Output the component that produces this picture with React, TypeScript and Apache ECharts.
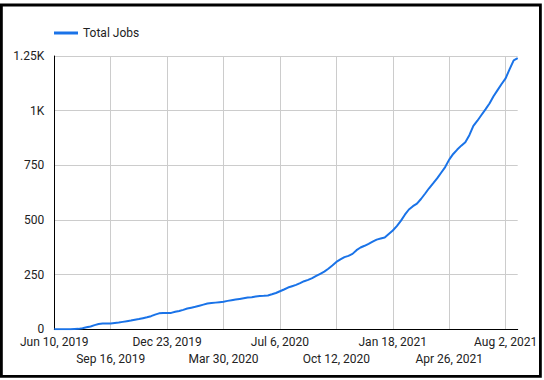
import React, { useEffect, useRef } from "react";
import * as echarts from "echarts";

// Weekly totals starting Jun 10, 2019
const totalJobs: number[] = [
  0, 0, 0, 0, 0, 1, 2, 5, 9, 13,
  19, 24, 26, 27, 27, 29, 31, 34, 37, 40,
  44, 47, 51, 55, 60, 67, 73, 74, 74, 75,
  80, 84, 89, 95, 99, 103, 108, 113, 118, 120,
  122, 124, 126, 130, 133, 136, 139, 142, 145, 147,
  150, 152, 153, 155, 160, 166, 174, 182, 191, 197,
  203, 211, 220, 226, 234, 244, 254, 264, 277, 292,
  308, 320, 330, 336, 345, 362, 374, 382, 391, 401,
  410, 415, 420, 436, 452, 472, 496, 524, 548, 563,
  575, 596, 620, 645, 667, 690, 716, 742, 776, 802,
  822, 840, 856, 888, 930, 954, 980, 1006, 1033, 1066,
  1094, 1122, 1148, 1190, 1230, 1240,
];

const tickLabels: string[] = [
  "Jun 10, 2019",
  "Sep 16, 2019",
  "Dec 23, 2019",
  "Mar 30, 2020",
  "Jul 6, 2020",
  "Oct 12, 2020",
  "Jan 18, 2021",
  "Apr 26, 2021",
  "Aug 2, 2021",
];

const yTickLabels: string[] = ["0", "250", "500", "750", "1K", "1.25K"];

const START = Date.UTC(2019, 5, 10);
const WEEK = 7 * 24 * 3600 * 1000;
const categories: string[] = totalJobs.map((_, i) =>
  new Date(START + i * WEEK).toISOString().slice(0, 10)
);
const LABEL_STEP = 14;

const labelBase = {
  fontSize: 12,
  color: "#222",
  fontFamily: "Roboto",
  hideOverlap: false,
  formatter: (_v: string, index: number) =>
    index % LABEL_STEP === 0 ? tickLabels[index / LABEL_STEP] ?? "" : "",
};

export default function App() {
  const ref = useRef<HTMLDivElement>(null);
  useEffect(() => {
    if (!ref.current) return;
    const chart = echarts.init(ref.current, undefined, { renderer: "svg" });
    chart.setOption({
      animation: false,
      textStyle: { fontFamily: "Roboto" },
      graphic: [
        {
          type: "rect",
          shape: { x: 1.4, y: 5, width: 539, height: 371.3 },
          style: { fill: "none", stroke: "#000", lineWidth: 2.8 },
          silent: true,
        },
      ],
      legend: {
        left: 54,
        top: 27,
        padding: 0,
        itemWidth: 24,
        itemHeight: 3,
        icon: "rect",
        textStyle: { fontSize: 12, color: "#222", fontFamily: "Roboto" },
        data: ["Total Jobs"],
      },
      grid: { left: 54.3, right: 26.3, top: 56, bottom: 50.7, containLabel: false },
      xAxis: [
        {
          type: "category",
          data: categories,
          boundaryGap: false,
          axisLine: { show: true, lineStyle: { color: "#000", width: 1 } },
          axisTick: { show: false },
          axisLabel: {
            ...labelBase,
            interval: (index: number) => index % (LABEL_STEP * 2) === 0,
            margin: 7,
          },
          splitLine: {
            show: true,
            interval: (index: number) => index % LABEL_STEP === 0,
            lineStyle: { color: "#ccc", width: 1 },
          },
        },
        {
          type: "category",
          data: categories,
          boundaryGap: false,
          position: "bottom",
          axisLine: { show: false },
          axisTick: { show: false },
          axisLabel: {
            ...labelBase,
            interval: (index: number) =>
              index % LABEL_STEP === 0 && (index / LABEL_STEP) % 2 === 1,
            margin: 24,
          },
          splitLine: { show: false },
        },
      ],
      yAxis: {
        type: "value",
        min: 0,
        max: 1250,
        interval: 250,
        axisLine: { show: true, lineStyle: { color: "#000", width: 1 } },
        axisTick: { show: false },
        axisLabel: {
          margin: 10,
          fontSize: 12,
          color: "#222",
          fontFamily: "Roboto",
          formatter: (v: number) => yTickLabels[Math.round(v / 250)] ?? String(v),
        },
        splitLine: { show: true, lineStyle: { color: "#ccc", width: 1 } },
      },
      series: [
        {
          name: "Total Jobs",
          type: "line",
          xAxisIndex: 0,
          data: totalJobs,
          showSymbol: false,
          symbol: "none",
          itemStyle: { color: "#1a73e8" },
          lineStyle: { color: "#1a73e8", width: 2 },
        },
      ],
    });
    return () => chart.dispose();
  }, []);
  return (
    <div
      ref={ref}
      style={{ position: "absolute", left: 0, top: 0, width: 544, height: 380 }}
    />
  );
}
